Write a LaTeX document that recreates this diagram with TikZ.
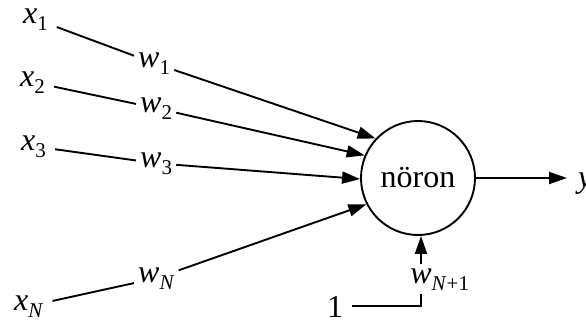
\documentclass[tikz,border=0pt]{standalone}
\usepackage{fontspec}
\setmainfont{Liberation Serif}
\usetikzlibrary{arrows.meta}
\newcommand\sbs[1]{\raisebox{-7pt}{\fontsize{21}{24}\selectfont #1}}
\begin{document}
\begin{tikzpicture}[x=1pt,y=-1pt,
  lab/.style={inner sep=4pt,font=\fontsize{32}{36}\selectfont},
  ln/.style={line width=1.9pt},
  arr/.style={line width=1.9pt,-{Triangle[length=18pt,width=12pt]}},
  neuron/.style={circle,draw,line width=1.9pt,minimum size=114pt,inner sep=0pt,font=\fontsize{32}{36}\selectfont}]
\useasboundingbox (0,0) rectangle (586,325);
\node[neuron] (n) at (418,178) {nöron};
\node[lab,anchor=base west] (x1) at (19,23) {\textit{x}\sbs{1}};
\node[lab,anchor=base west] (x2) at (16,86) {\textit{x}\sbs{2}};
\node[lab,anchor=base west] (x3) at (17,150) {\textit{x}\sbs{3}};
\node[lab,anchor=base west] (xN) at (10,310) {\textit{x}\sbs{\textit{N}}};
\node[lab,anchor=base west] (w1) at (134,67) {\textit{w}\sbs{1}};
\node[lab,anchor=base west] (w2) at (136,112) {\textit{w}\sbs{2}};
\node[lab,anchor=base west] (w3) at (136,167) {\textit{w}\sbs{3}};
\node[lab,anchor=base west] (wN) at (134,282) {\textit{w}\sbs{\textit{N}}};
\node[lab,anchor=base] (wN1) at (421,283) {\textit{w}\rlap{\sbs{\textit{N}+1}}};
\node[lab,anchor=base west] (one) at (323,317) {1};
\node[lab,anchor=base west] (y) at (574,187) {\textit{y}};
\draw[ln,shorten <=5pt] (x1) -- (w1);
\draw[ln,shorten <=5pt] (x2) -- (w2);
\draw[ln,shorten <=5pt] (x3) -- (w3);
\draw[ln,shorten <=5pt] (xN) -- (wN);
\draw[arr] (w1) -- (n.137);
\draw[arr] (w2) -- (n.157);
\draw[arr] (w3) -- (n.181);
\draw[arr] (wN) -- (n.207);
\draw[arr,shorten >=7pt] (n.east) -- (n.east -| y.west);
\draw[arr] (wN1.north) -- (wN1.north |- n.south);
\draw[ln] ([xshift=5pt]one.east) -| (wN1.south);
\end{tikzpicture}
\end{document}
